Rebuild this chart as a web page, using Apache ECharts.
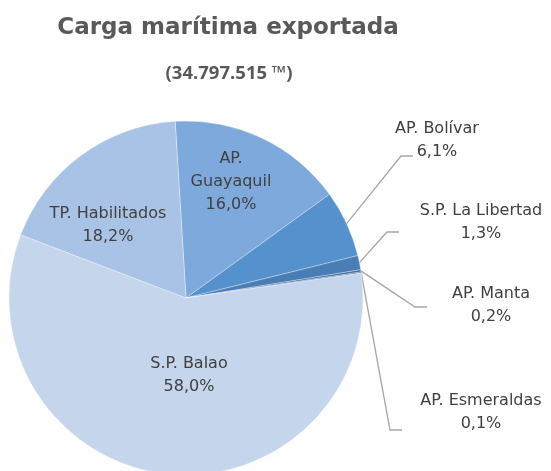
<!DOCTYPE html>
<html>
<head>
<meta charset="utf-8">
<script src="https://cdn.jsdelivr.net/npm/echarts@6/dist/echarts.min.js"></script>
<style>
html,body{margin:0;padding:0;background:#fff;}
#chart{width:551px;height:471px;}
</style>
</head>
<body>
<div id="chart"></div>
<script>
// ---- data ----
var categories = ['AP. Guayaquil', 'AP. Bolívar', 'S.P. La Libertad', 'AP. Manta', 'AP. Esmeraldas', 'S.P. Balao', 'TP. Habilitados'];
var shares = [16.0, 6.1, 1.3, 0.2, 0.1, 58.0, 18.2];
var titleText = 'Carga marítima exportada';
var subtitleText = '(34.797.515 ™)';

// ---- styling / layout (not data) ----
var colors = ['#7ea9dc', '#5592cd', '#4a7db5', '#3d6ea3', '#335f90', '#c4d5ec', '#a8c3e5'];
var insideIdx = {0: true, 5: true, 6: true};
// label anchor (center) positions
var labelAnchor = {
  0: [231, 182], 1: [437, 140], 2: [481, 222], 3: [491, 305],
  4: [481, 412], 5: [189, 375], 6: [108, 225]
};
// leader line end offsets relative to label anchor
var lineEnd = { 1: [-24, 16], 2: [-82, 10], 3: [-64, 2], 4: [-79, 18] };
var elbowLen = 12;

var chart = echarts.init(document.getElementById('chart'), null, {renderer: 'canvas'});

var seriesData = categories.map(function (c, i) {
  var item = {
    name: c,
    value: shares[i],
    itemStyle: {color: colors[i]}
  };
  if (insideIdx[i]) {
    item.label = {position: 'inside'};
    item.labelLine = {show: false};
  }
  return item;
});

chart.setOption({
  animation: false,
  backgroundColor: '#ffffff',
  title: [{
    text: titleText,
    left: 223,
    textAlign: 'center',
    top: 10,
    textStyle: {fontFamily: 'DejaVu Sans', fontWeight: 'bold', fontSize: 23, color: '#595959', lineHeight: 27}
  }, {
    text: subtitleText,
    left: 224,
    textAlign: 'center',
    top: 58,
    textStyle: {fontFamily: 'Open Sans', fontWeight: 'bold', fontSize: 18.5, color: '#595959', lineHeight: 22}
  }],
  series: [{
    type: 'pie',
    center: [186, 298],
    radius: 177,
    startAngle: 93.5,
    clockwise: true,
    avoidLabelOverlap: false,
    data: seriesData,
    itemStyle: {borderColor: 'rgba(255,255,255,0.55)', borderWidth: 0.6},
    emphasis: {disabled: true},
    label: {
      show: true,
      position: 'outside',
      fontFamily: 'DejaVu Sans',
      fontSize: 16,
      lineHeight: 23,
      color: '#404040',
      align: 'center',
      formatter: function (p) {
        var nm = p.name === 'AP. Guayaquil' ? 'AP.\nGuayaquil' : p.name;
        return nm + '\n' + p.value.toFixed(1).replace('.', ',') + '%';
      }
    },
    labelLine: {
      show: true,
      length: 10,
      length2: 10,
      lineStyle: {color: '#a6a6a6', width: 1.3}
    },
    labelLayout: function (params) {
      var i = params.dataIndex;
      var a = labelAnchor[i];
      var res = {x: a[0], y: a[1], align: 'center', verticalAlign: 'middle'};
      if (lineEnd[i] && params.labelLinePoints) {
        var s = params.labelLinePoints[0];
        var ex = a[0] + lineEnd[i][0], ey = a[1] + lineEnd[i][1];
        res.labelLinePoints = [[s[0], s[1]], [ex - elbowLen, ey], [ex, ey]];
      }
      return res;
    }
  }]
});
</script>
</body>
</html>
